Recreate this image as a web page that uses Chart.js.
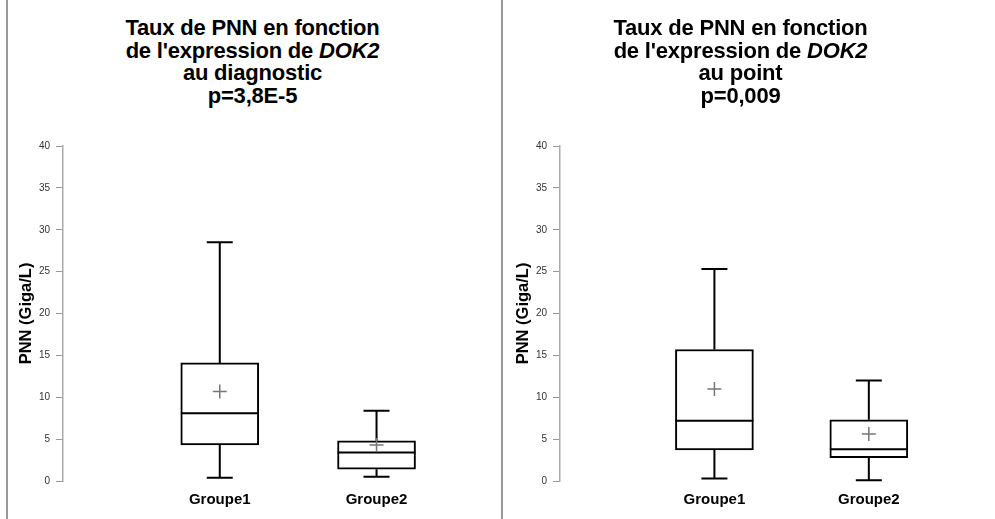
<!DOCTYPE html>
<html><head><meta charset="utf-8">
<script src="https://cdn.jsdelivr.net/npm/chart.js@4.4.1/dist/chart.umd.min.js"></script>
<style>
body{margin:0;background:#fff;font-family:"Liberation Sans",Arial,sans-serif;}
#wrap{position:relative;width:995px;height:519px;overflow:hidden;}
.panel{position:absolute;top:0;width:495px;height:519px;}
.title{position:absolute;top:17px;left:0;width:100%;text-align:center;font-weight:bold;font-size:22px;line-height:22.5px;color:#000;letter-spacing:-0.2px;}
canvas{position:absolute;left:0;top:0;}
.vline{position:absolute;top:0;width:2px;height:519px;background:#9a9a9a;}
</style></head><body>
<div id="wrap">
  <div class="vline" style="left:6px"></div>
  <div class="vline" style="left:501px"></div>
  <div class="panel" style="left:0"><div class="title" style="left:5px">Taux de PNN en fonction<br>de l'expression de <i>DOK2</i><br>au diagnostic<br>p=3,8E-5</div><canvas id="c1" width="495" height="519"></canvas></div>
  <div class="panel" style="left:500px"><div class="title" style="left:-7px">Taux de PNN en fonction<br>de l'expression de <i>DOK2</i><br>au point<br>p=0,009</div><canvas id="c2" width="495" height="519"></canvas></div>
</div>
<script>
const categories = ["Groupe1", "Groupe2"];
const yTicks = [0, 5, 10, 15, 20, 25, 30, 35, 40];

// diagnostic
const diagMin    = [0.4, 0.5];
const diagQ1     = [4.3, 1.4];
const diagMedian = [8.1, 3.4];
const diagQ3     = [14.1, 4.8];
const diagMax    = [28.5, 8.4];
const diagMean   = [10.7, 4.3];

// au point
const pointMin    = [0.3, 0.1];
const pointQ1     = [3.7, 2.8];
const pointMedian = [7.2, 3.8];
const pointQ3     = [15.7, 7.3];
const pointMax    = [25.3, 12.0];
const pointMean   = [11.0, 5.6];

const boxPlugin = {
  id: "boxExtras",
  afterDatasetsDraw(chart, args, opts){
    const s = opts.stats, ctx = chart.ctx;
    if (!s) return;
    const xs = chart.scales.x, ys = chart.scales.y;
    const half = 39, cap = 13;
    ctx.save();
    for (let i = 0; i < categories.length; i++){
      const cx = xs.getPixelForValue(i + 1);
      const yMin = ys.getPixelForValue(s.min[i]), yMax = ys.getPixelForValue(s.max[i]);
      const yq1 = ys.getPixelForValue(s.q1[i]), yq3 = ys.getPixelForValue(s.q3[i]);
      const ym = ys.getPixelForValue(s.median[i]), ymean = ys.getPixelForValue(s.mean[i]);
      ctx.strokeStyle = "#000"; ctx.lineWidth = 2;
      ctx.beginPath();
      ctx.moveTo(cx, yq3); ctx.lineTo(cx, yMax);
      ctx.moveTo(cx - cap, yMax); ctx.lineTo(cx + cap, yMax);
      ctx.moveTo(cx, yq1); ctx.lineTo(cx, yMin);
      ctx.moveTo(cx - cap, yMin); ctx.lineTo(cx + cap, yMin);
      ctx.moveTo(cx - half, ym); ctx.lineTo(cx + half, ym);
      ctx.stroke();
      ctx.strokeStyle = "#777"; ctx.lineWidth = 1.5;
      ctx.beginPath();
      ctx.moveTo(cx - 7, ymean); ctx.lineTo(cx + 7, ymean);
      ctx.moveTo(cx, ymean - 7); ctx.lineTo(cx, ymean + 7);
      ctx.stroke();
    }
    ctx.restore();
  }
};

function makeBox(id, stats, axisX, xMax, padLeft){
  new Chart(document.getElementById(id), {
    type: "bar",
    data: {
      datasets: [{
        data: categories.map((c, i) => ({x: i + 1, y: [stats.q1[i], stats.q3[i]]})),
        backgroundColor: "#fff",
        borderColor: "#000",
        borderWidth: 2,
        borderSkipped: false,
        barThickness: 78
      }]
    },
    options: {
      responsive: false,
      animation: false,
      events: [],
      layout: { padding: { top: 146, right: 15, left: padLeft, bottom: 0 } },
      plugins: { legend: { display: false }, tooltip: { enabled: false }, boxExtras: { stats } },
      scales: {
        x: {
          type: "linear", min: 0, max: xMax, offset: false,
          afterFit: (sc)=>{ sc.height = 38; },
          afterBuildTicks: (sc)=>{ sc.ticks = categories.map((c, i) => ({value: i + 1})); },
          ticks: { callback: (v)=>categories[v - 1] || "", color: "#000", font: { family: "Liberation Sans", size: 15, weight: "bold" }, padding: 2 },
          grid: { display: false, offset: false },
          border: { display: false }
        },
        y: {
          min: 0, max: 40,
          afterFit: (sc)=>{ sc.width = axisX - padLeft; },
          afterBuildTicks: (sc)=>{ sc.ticks = yTicks.map(v => ({value: v})); },
          ticks: { color: "#333", font: { family: "Liberation Sans", size: 10 }, padding: 6 },
          grid: { drawOnChartArea: false, color: "#999", tickLength: 7 },
          border: { color: "#aaa", width: 1.5 },
          title: { display: true, text: "PNN (Giga/L)", color: "#000", font: { family: "Liberation Sans", size: 16.5, weight: "bold" }, padding: 0 }
        }
      }
    },
    plugins: [boxPlugin]
  });
}

makeBox("c1", {min: diagMin, q1: diagQ1, median: diagMedian, q3: diagQ3, max: diagMax, mean: diagMean}, 63, 2.66, 17);
makeBox("c2", {min: pointMin, q1: pointQ1, median: pointMedian, q3: pointQ3, max: pointMax, mean: pointMean}, 60, 2.72, 14);
</script>
</body></html>
